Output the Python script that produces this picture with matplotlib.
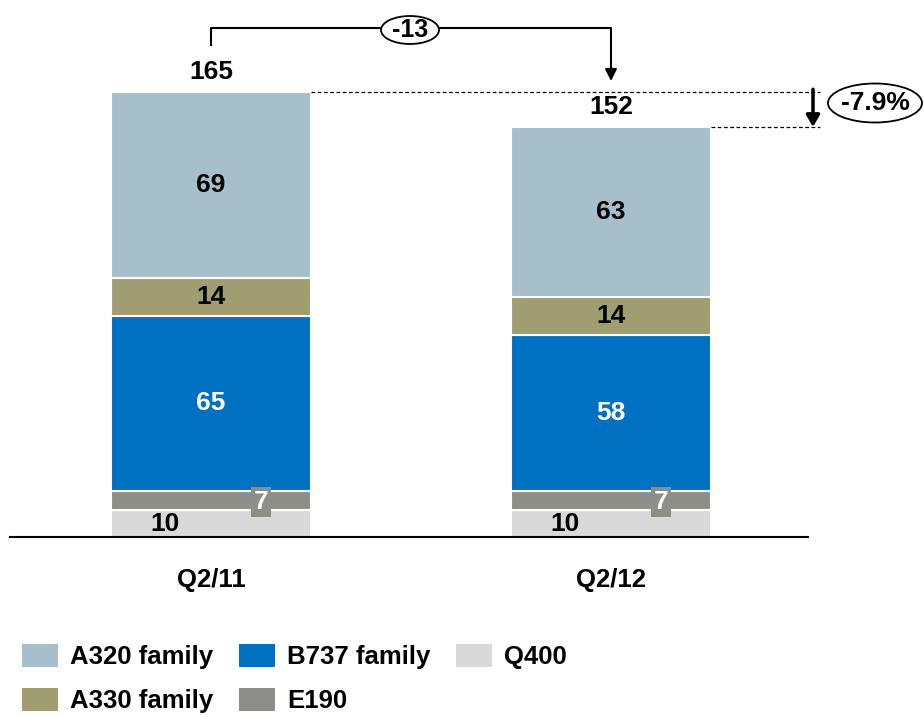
import numpy as np
import matplotlib
matplotlib.use("Agg")
from matplotlib import pyplot as plt
from matplotlib.patches import Ellipse, Patch

plt.rcParams['font.family'] = ['Liberation Sans', 'DejaVu Sans']
plt.rcParams['font.weight'] = 'bold'

quarters = ["Q2/11", "Q2/12"]
series = ["Q400", "E190", "B737 family", "A330 family", "A320 family"]
q400 = [10, 10]
e190 = [7, 7]
b737 = [65, 58]
a330 = [14, 14]
a320 = [69, 63]
totals = [165, 152]
change_abs = "-13"
change_pct = "-7.9%"

colors = {"Q400": "#D9D9D9", "E190": "#8E8E89", "B737 family": "#0070C0",
          "A330 family": "#A09D70", "A320 family": "#A7BFCB"}
text_colors = {"Q400": "black", "E190": "white", "B737 family": "white",
               "A330 family": "black", "A320 family": "black"}

W, H = 924, 717
PPU = 445 / 165.0  # pixels per unit
BASE = 537
FS = 19


def ypx(p):
    return (BASE - p) / PPU


def xpx(p):
    return (p - 211) / 400.0


fig = plt.figure(figsize=(W / 100, H / 100), dpi=100)
ax = fig.add_axes([10 / W, (H - BASE) / H, 914 / W, BASE / H])
ax.set_xlim(xpx(10), xpx(924))
ax.set_ylim(0, BASE / PPU)
ax.axis("off")

x = np.arange(len(quarters))
width = 0.5
values = [q400, e190, b737, a330, a320]
bottom = np.zeros(len(quarters))
for name, vals in zip(series, values):
    ax.bar(x, vals, width, bottom=bottom, color=colors[name],
           edgecolor="white", linewidth=1.5, label=name)
    for i, v in enumerate(vals):
        yc = bottom[i] + v / 2
        if name == "Q400":
            ax.text(x[i] - 0.115, yc, str(v), ha="center", va="center",
                    fontsize=FS, color="black")
        elif name == "E190":
            ax.text(x[i] + 0.125, yc - 0.5, str(v), ha="center", va="center",
                    fontsize=FS, color="white",
                    bbox=dict(boxstyle="square,pad=0.12", fc=colors[name], ec="none"))
        else:
            ax.text(x[i], yc, str(v), ha="center", va="center",
                    fontsize=FS, color=text_colors[name])
    bottom += np.array(vals)

# baseline
ax.plot([xpx(10), xpx(808)], [0, 0], color="black", lw=1.5, clip_on=False)

# totals
for i, t in enumerate(totals):
    ax.text(x[i], t + 7.5, str(t), ha="center", va="center", fontsize=FS)

# category labels
for i, q in enumerate(quarters):
    ax.text(x[i], ypx(580), q, ha="center", va="center", fontsize=18.5)

# bracket arrow -13
ax.plot([x[0], x[0], x[1], x[1]], [ypx(45), ypx(28), ypx(28), ypx(68)],
        color="black", lw=1.5, clip_on=False)
ax.annotate("", xy=(x[1], ypx(81)), xytext=(x[1], ypx(66)),
            arrowprops=dict(arrowstyle="-|>,head_length=0.7,head_width=0.35",
                            color="black", lw=1.5, shrinkA=0, shrinkB=0))
ax.add_patch(Ellipse((xpx(410), ypx(30)), 58 / 400, 28 / PPU,
                     fc="white", ec="black", lw=1.3, zorder=5, clip_on=False))
ax.text(xpx(410), ypx(30), change_abs, ha="center", va="center",
        fontsize=18, zorder=6)

# dashed reference lines
ax.plot([x[0] + width / 2, xpx(820)], [totals[0], totals[0]],
        color="black", lw=0.9, ls=(0, (3, 2)), clip_on=False)
ax.plot([x[1] + width / 2, xpx(820)], [totals[1], totals[1]],
        color="black", lw=0.9, ls=(0, (3, 2)), clip_on=False)
ax.annotate("", xy=(xpx(813), totals[1]), xytext=(xpx(813), totals[0] + 1.0),
            arrowprops=dict(arrowstyle="-|>,head_length=0.7,head_width=0.4",
                            color="black", lw=2.5, shrinkA=0, shrinkB=0))
ax.add_patch(Ellipse((xpx(875), ypx(103)), 94 / 400, 39 / PPU,
                     fc="white", ec="black", lw=1.3, zorder=5, clip_on=False))
ax.text(xpx(875), ypx(103), change_pct, ha="center", va="center",
        fontsize=FS, zorder=6)

# legend
order = ["A320 family", "A330 family", "B737 family", "E190", "Q400"]
handles = [Patch(facecolor=colors[n], edgecolor="none", label=n) for n in order]
fig.legend(handles=handles, loc="upper left", bbox_to_anchor=(22 / W, 1 - 644 / H),
           ncol=3, frameon=False, fontsize=18.5, handlelength=1.4, handleheight=1.0,
           handletextpad=0.47, columnspacing=1.0, labelspacing=0.72,
           borderaxespad=0, borderpad=0)

fig.savefig("out.png", dpi=100)
